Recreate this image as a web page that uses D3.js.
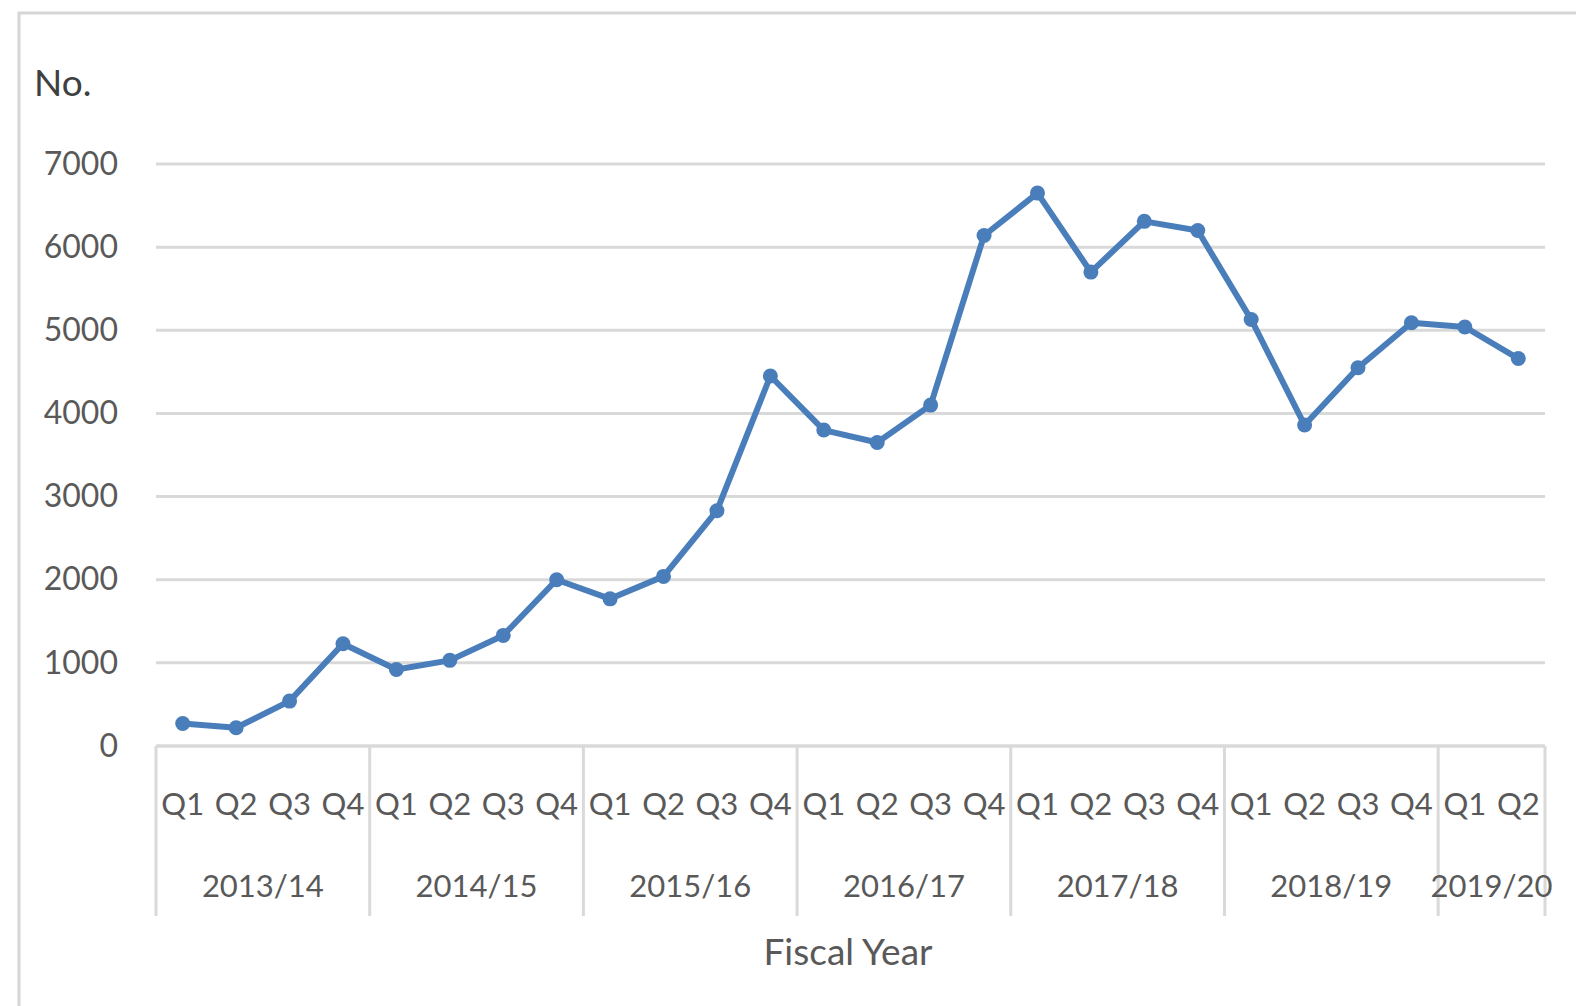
<!DOCTYPE html>
<html>
<head>
<meta charset="utf-8">
<script src="https://cdn.jsdelivr.net/npm/d3@7"></script>
<style>
  html, body { margin: 0; padding: 0; background: #fff; }
  svg { display: block; }
  text { font-family: Lato, "Open Sans", sans-serif; }
</style>
</head>
<body>
<svg id="chart" width="1576" height="1006"></svg>
<script>
// fiscal years and the quarters in each
var years = ["2013/14", "2014/15", "2015/16", "2016/17", "2017/18", "2018/19", "2019/20"];
var quarters_per_year = [4, 4, 4, 4, 4, 4, 2];
var quarter_names = ["Q1", "Q2", "Q3", "Q4"];

// counts per quarter
var values = [
    270, 220, 540, 1230,
    920, 1030, 1330, 2000,
    1770, 2040, 2830, 4450,
    3800, 3650, 4100, 6140,
    6650, 5700, 6310, 6200,
    5130, 3860, 4550, 5090,
    5040, 4660
];
var y_ticks = [0, 1000, 2000, 3000, 4000, 5000, 6000, 7000];

function build_chart() {
    var svg = d3.select("svg#chart");

    const LEFT = 156, RIGHT = 1545, TOP = 164, BOTTOM = 746;
    const LINE_COLOR = "#4a7ebb";
    const GRID_COLOR = "#d9d9d9";
    const TEXT_COLOR = "#595959";

    // flat list of points: year + quarter
    var data = [];
    years.forEach(function (year, yi) {
        for (var q = 0; q < quarters_per_year[yi]; q++) {
            data.push({ year: year, quarter: quarter_names[q], value: values[data.length] });
        }
    });

    // outer border (only top and left visible)
    svg.append("rect")
        .attr("x", 19).attr("y", 13)
        .attr("width", 1600).attr("height", 1100)
        .attr("fill", "none")
        .attr("stroke", "#d6d6d6")
        .attr("stroke-width", 3);

    var xscale = d3.scaleBand()
        .domain(d3.range(data.length))
        .range([LEFT, RIGHT]);

    var yscale = d3.scaleLinear()
        .domain([0, 7000])
        .range([BOTTOM, TOP]);

    // gridlines
    svg.append("g").attr("class", "grid")
        .selectAll("line")
        .data(y_ticks)
        .join("line")
        .attr("x1", LEFT).attr("x2", RIGHT)
        .attr("y1", d => yscale(d)).attr("y2", d => yscale(d))
        .attr("stroke", GRID_COLOR)
        .attr("stroke-width", 3);

    // y axis labels
    var yaxis = d3.axisLeft(yscale)
        .tickValues(y_ticks)
        .tickFormat(d3.format("d"))
        .tickSize(0)
        .tickPadding(0);
    var gy = svg.append("g")
        .attr("transform", "translate(118,0)")
        .call(yaxis);
    gy.select(".domain").remove();
    gy.selectAll("text")
        .attr("font-size", 32)
        .attr("font-family", "Lato, sans-serif")
        .attr("fill", TEXT_COLOR);

    // "No." label
    svg.append("text")
        .attr("x", 34).attr("y", 96)
        .attr("font-size", 37)
        .attr("fill", "#404040")
        .text("No.");

    // category axis: quarter labels
    var xaxis = d3.axisBottom(xscale)
        .tickFormat(i => data[i].quarter)
        .tickSize(0)
        .tickPadding(0);
    var gx = svg.append("g")
        .attr("transform", "translate(0," + BOTTOM + ")")
        .call(xaxis);
    gx.select(".domain").remove();
    gx.selectAll("text")
        .attr("y", 58)
        .attr("dy", "0.35em")
        .attr("font-size", 31)
        .attr("font-family", "Lato, sans-serif")
        .attr("fill", TEXT_COLOR);

    // year group separators and labels
    var bounds = [];
    var idx = 0;
    years.forEach(function (year, yi) {
        var start = xscale(idx);
        idx += quarters_per_year[yi];
        var end = xscale(idx - 1) + xscale.bandwidth();
        bounds.push({ year: year, start: start, end: end });
    });

    var seps = [LEFT].concat(bounds.map(b => b.end));
    svg.append("g").selectAll("line")
        .data(seps)
        .join("line")
        .attr("x1", d => d).attr("x2", d => d)
        .attr("y1", BOTTOM).attr("y2", 916)
        .attr("stroke", GRID_COLOR)
        .attr("stroke-width", 3);

    svg.append("line")
        .attr("x1", LEFT).attr("x2", RIGHT)
        .attr("y1", BOTTOM).attr("y2", BOTTOM)
        .attr("stroke", GRID_COLOR)
        .attr("stroke-width", 3);

    svg.append("g").selectAll("text")
        .data(bounds)
        .join("text")
        .attr("x", d => (d.start + d.end) / 2)
        .attr("y", 886)
        .attr("dy", "0.35em")
        .attr("text-anchor", "middle")
        .attr("font-size", 31)
        .attr("fill", TEXT_COLOR)
        .text(d => d.year);

    // axis title
    svg.append("text")
        .attr("x", 848).attr("y", 965)
        .attr("text-anchor", "middle")
        .attr("font-size", 37)
        .attr("fill", TEXT_COLOR)
        .text("Fiscal Year");

    // the line
    var cx = (d, i) => xscale(i) + xscale.bandwidth() / 2;
    svg.append("path")
        .datum(data)
        .attr("fill", "none")
        .attr("stroke", LINE_COLOR)
        .attr("stroke-width", 6)
        .attr("stroke-linejoin", "round")
        .attr("d", d3.line()
            .x(cx)
            .y(d => yscale(d.value)));

    svg.append("g").selectAll("circle")
        .data(data)
        .join("circle")
        .attr("cx", cx)
        .attr("cy", d => yscale(d.value))
        .attr("r", 7.5)
        .attr("fill", LINE_COLOR);
}

build_chart();
</script>
</body>
</html>
